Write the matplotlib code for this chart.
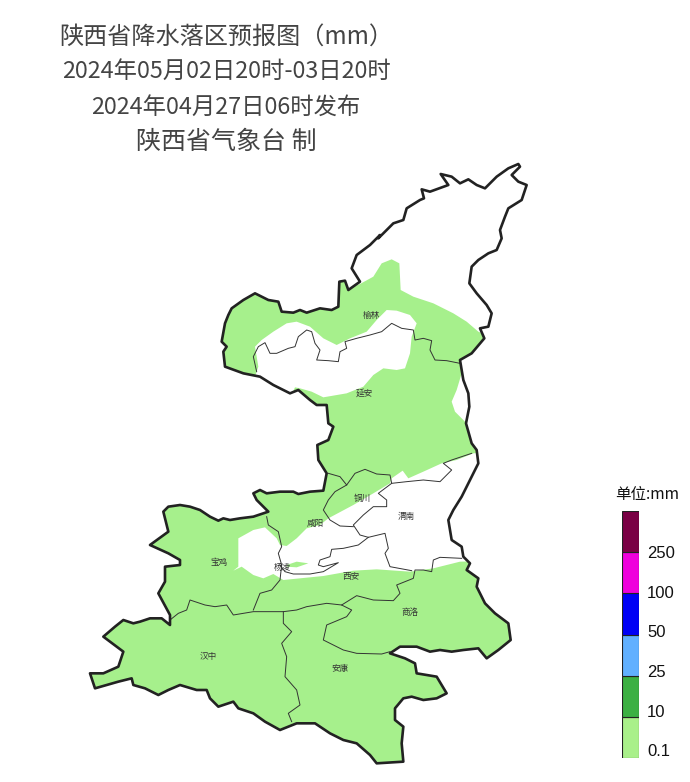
import numpy as np
import matplotlib
matplotlib.use("Agg")
import matplotlib.pyplot as plt

plt.rcParams['font.family'] = ['Noto Sans CJK SC', 'DejaVu Sans']

# Map geometry was traced from two enlarged crops, so it is stored in crop units
# and turned into map units by to_map() below
NORTH_OUTLINE = [(75,650),(70,605),(80,590),(65,575),(75,520),(85,495),(95,475),(130,450),(165,430),(205,450),(235,455),
    (245,485),(280,488),(300,480),(320,488),(360,475),(395,480),(415,470),(418,395),(435,392),(445,420),(480,395),
    (455,355),(470,315),(510,285),(540,255),(535,265),(555,245),(580,220),(610,210),(620,175),(660,150),(672,145),(665,118),(690,125),
    (745,105),(722,72),(755,80),(780,100),(805,88),(830,105),(855,115),(890,80),(925,55),(955,42),(960,50),(935,75),
    (955,95),(980,105),(965,150),(925,175),(915,200),(900,240),(905,265),(890,300),(865,310),(835,330),(815,350),(808,400),(830,430),
    (860,465),(875,490),(865,530),(840,535),(853,565),(815,610),(780,630),(790,690),(805,730),(808,770),(798,820),(815,880)]
SOUTH_OUTLINE = [(1160,0),(1165,40),(1140,90),(1115,140),(1090,180),(1075,210),(1085,270),(1115,290),(1120,320),(1140,340),
    (1130,360),(1165,385),(1160,410),(1175,440),(1185,460),(1215,490),(1255,520),(1262,570),(1225,600),(1190,625),
    (1165,595),(1120,600),(1085,605),(1050,600),(1020,605),(980,590),(930,590),(900,610),(945,625),(975,640),(980,670),(1040,680),(1070,730),
    (1040,745),(1000,750),(965,740),(940,745),(915,775),(915,810),(940,830),(935,880),(940,935),(860,940),(840,915),(800,880),(760,870),(720,850),
    (675,820),(620,820),(570,840),(525,815),(490,790),(445,775),(430,755),(385,770),(360,745),(350,720),(320,720),
    (270,705),(235,720),(205,735),(165,715),(130,705),(125,685),(85,695),(50,705),(15,715),(0,670),(40,670),(85,650),(100,605),(80,590),(40,560),(75,530),
    (100,510),(130,520),(150,515),(180,505),(215,505),(240,525),(240,495),(205,430),(225,395),(225,350),(270,345),(270,330),(235,310),
    (180,285),(235,245),(220,185),(235,170),(270,165),(300,170),(330,180),(360,200),(385,212),(400,205),(420,210),(450,205),(490,200),(535,185),(500,150),(490,130),
    (510,120),(530,130),(570,125),(610,125),(625,132),(660,125),(700,122),(710,70),(685,30)]
WEST_OUTLINE = [(352,885),(385,870),(400,830),(385,820),(380,765),(350,765),(330,750),(295,720),(270,730),(220,705),
    (180,680),(130,670)]

GREEN_AREA = [(-100,300),(440,300),(448,415),(480,402),(520,380),(545,340),(575,328),(598,340),(602,420),(640,440),(700,460),
    (760,490),(800,515),(835,545),(870,560),(1500,560),(1500,2000),(-1000,2000),(-1000,300)]
DRY_BAND = [(165,680),(175,650),(165,590),(185,570),(220,545),(260,520),(290,515),(330,530),(370,565),(410,585),(450,565),(500,545),
    (530,510),(560,480),(590,482),(630,495),(650,520),(635,560),(630,610),(615,655),(590,660),(550,655),(520,675),
    (490,710),(440,730),(370,742),(335,725),(300,715),(285,712),(270,745),(180,710)]
DRY_EAST = [(785,670),(770,720),(755,755),(765,785),(795,815),(850,815),(850,670)]
DRY_GUANZHONG = [(445,265),(490,240),(525,232),(560,265),(570,285),(590,288),(620,265),(650,235),(690,225),(715,205),
    (790,165),(850,130),(900,100),(905,85),(938,62),(955,85),(1000,65),(1055,40),(1100,30),(1150,10),(1300,0),(1300,330),
    (1110,335),(1030,355),(960,365),(860,358),(790,362),(700,378),(630,385),(580,390),(550,372),(520,385),(490,375),
    (455,350),(430,362),(445,350)]
WET_SPOT = [(590,345),(620,335),(655,340),(620,352),(590,350)]

NORTH_BORDERS = [
    [(170,665),(160,620),(175,590),(195,578),(210,610),(230,610),(265,595),(285,590),(295,560),(320,540),(335,545),(345,580),
     (360,600),(350,630),(385,632),(415,635),(420,605),(440,595),(435,575),(470,565),(510,555),(545,545),(575,520),(605,535),
     (640,540),(645,570),(670,565),(695,572),(690,600),(705,630),(740,632),(780,640)],
]
SOUTH_BORDERS = [
    [(1145,10),(1085,30),(1060,40),(1085,60),(1050,95),(1000,90),(950,95),(905,100),(900,75),(860,72),(825,58),(795,70),
     (770,105),(750,80),(715,70)],
    [(770,105),(735,125),(715,150),(700,180),(720,210),(750,228),(790,230)],
    [(905,100),(865,130),(890,150),(890,170),(850,170),(820,195),(790,225),(810,255),(835,262),(885,250),(895,295),(885,310),
     (900,350),(965,362)],
    [(835,262),(805,285),(760,295),(725,298),(720,320),(690,330),(685,345),(700,350),(745,338),(700,365),(660,372),(610,372),
     (585,365),(570,345)],
    [(530,200),(535,225),(565,245),(575,290),(565,310),(575,345),(570,390),(545,420),(510,430),(490,480)],
    [(240,510),(265,490),(290,480),(300,450),(345,465),(375,470),(410,465),(430,495),(490,485),(580,485),(620,480),(650,470),
     (710,460),(755,465),(800,437),(850,450),(910,452),(930,430),(920,405),(970,385),(975,360),(1000,360),(1025,365),(1030,330),
     (1050,322),(1115,325)],
    [(580,485),(580,520),(605,545),(575,580),(590,620),(585,680),(620,720),(630,765),(595,790),(605,815)],
    [(755,465),(785,480),(770,500),(710,525),(700,570),(760,600),(800,610),(875,612),(900,605)],
]

cities = ['榆林', '延安', '铜川', '咸阳', '渭南', '宝鸡', '杨凌', '西安', '商洛', '汉中', '安康']
city_x = [371, 364, 362, 315, 406, 219, 282, 351, 410, 208, 340]
city_y = [315, 393, 498, 523, 516, 563, 567, 577, 612, 657, 669]

title_lines = ['陕西省降水落区预报图（mm）', '2024年05月02日20时-03日20时', '2024年04月27日06时发布', '陕西省气象台 制']
title_y = [37, 71, 107, 142]
title_sizes = [17.4, 16.8, 16.8, 18.0]

legend_colors = ['#a9f08a', '#3cb043', '#61b0ff', '#0000f5', '#ef00dc', '#7a0045']
legend_labels = ['0.1', '10', '25', '50', '100', '250']

RAIN_GREEN = '#a6f08c'


def to_map(points, x0, y0):
    arr = np.array(points, dtype=float) / 3
    return arr[:, 0] + x0, arr[:, 1] + y0


def north(points):
    return to_map(points, 200, 150)


def south(points):
    return to_map(points, 90, 450)


fig = plt.figure(figsize=(6.9, 7.82), dpi=100)
ax = fig.add_axes([0, 0, 1, 1])
ax.set_xlim(0, 690)
ax.set_ylim(782, 0)
ax.axis('off')

# Province outline, everything else gets clipped to it
nx, ny = north(NORTH_OUTLINE)
sx, sy = south(SOUTH_OUTLINE)
wx, wy = north(WEST_OUTLINE)
outline_x = np.concatenate([nx, sx, wx])
outline_y = np.concatenate([ny, sy, wy])
base = ax.fill(outline_x, outline_y, color='white', zorder=1)[0]

for poly, conv, col in [(GREEN_AREA, north, RAIN_GREEN), (DRY_BAND, north, 'white'), (DRY_EAST, north, 'white'),
                        (DRY_GUANZHONG, south, 'white'), (WET_SPOT, south, RAIN_GREEN)]:
    px, py = conv(poly)
    patch = ax.fill(px, py, color=col, lw=0, zorder=2)[0]
    patch.set_clip_path(base)

for line in NORTH_BORDERS:
    ax.plot(*north(line), color='#333333', lw=0.7, zorder=3)
for line in SOUTH_BORDERS:
    ax.plot(*south(line), color='#333333', lw=0.7, zorder=3)

ax.fill(outline_x, outline_y, facecolor='none', edgecolor='#222222', lw=1.9, joinstyle='round', zorder=4)

for name, x, y in zip(cities, city_x, city_y):
    ax.text(x, y, name, fontsize=6.2, color='#333333', ha='center', va='center', zorder=5)

for line, y, size in zip(title_lines, title_y, title_sizes):
    ax.text(226, y, line, fontsize=size, color='#444444', ha='center', va='center', zorder=5)

# Legend column
leg = fig.add_axes([621.7 / 690, 1 - 758.3 / 782, 17.6 / 690, 247.6 / 782])
leg.bar(0.5, 1, bottom=np.arange(len(legend_colors)), width=1, color=legend_colors, edgecolor='#222222', lw=0.8)
leg.set_xlim(0, 1)
leg.set_ylim(0, len(legend_colors))
leg.axis('off')
for i, label in enumerate(legend_labels):
    ax.text(647, 752 - i * 39.7, label, fontsize=12, family='Liberation Sans', color='#111111', ha='left', va='center')
ax.text(647, 494, '单位:mm', fontsize=11.2, color='#111111', ha='center', va='center')

plt.savefig('out.png', dpi=100)
